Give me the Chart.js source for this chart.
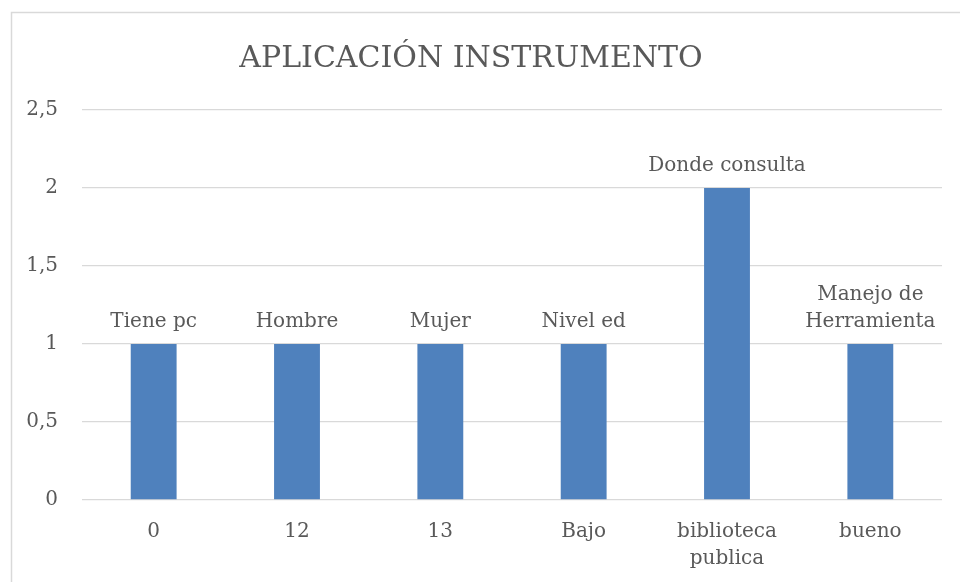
<!DOCTYPE html>
<html>
<head>
<meta charset="utf-8">
<script src="https://cdn.jsdelivr.net/npm/chart.js@4.4.1/dist/chart.umd.min.js"></script>
<style>
  html, body { margin: 0; padding: 0; background: #fff; }
  #wrap { position: relative; width: 960px; height: 582px; }
</style>
</head>
<body>
<div id="wrap"><canvas id="chart" width="960" height="582"></canvas></div>
<script>
const FONT = "'DejaVu Serif', serif";
const TEXT_COLOR = '#595959';

const categories = [['0'], ['12'], ['13'], ['Bajo'], ['biblioteca', 'publica'], ['bueno']];
const values = [1, 1, 1, 1, 2, 1];
const barLabels = [['Tiene pc'], ['Hombre'], ['Mujer'], ['Nivel ed'], ['Donde consulta'], ['Manejo de', 'Herramienta']];
const yTicks = [0, 0.5, 1, 1.5, 2, 2.5];

// frame around the chart (only top and left show in the picture)
const framePlugin = {
  id: 'frame',
  beforeDraw(chart) {
    const ctx = chart.ctx;
    ctx.save();
    ctx.strokeStyle = '#d9d9d9';
    ctx.lineWidth = 1.5;
    ctx.strokeRect(11.5, 12.5, 1000, 700);
    ctx.restore();
  }
};

// labels written above each bar
const barLabelPlugin = {
  id: 'barLabels',
  afterDatasetsDraw(chart) {
    const ctx = chart.ctx;
    const meta = chart.getDatasetMeta(0);
    ctx.save();
    ctx.font = '20px ' + FONT;
    ctx.fillStyle = TEXT_COLOR;
    ctx.textAlign = 'center';
    ctx.textBaseline = 'alphabetic';
    meta.data.forEach((bar, i) => {
      const lines = barLabels[i];
      lines.forEach((line, j) => {
        const y = bar.y - 17 - (lines.length - 1 - j) * 27;
        ctx.fillText(line, bar.x, y);
      });
    });
    ctx.restore();
  }
};

new Chart(document.getElementById('chart'), {
  type: 'bar',
  data: {
    labels: categories,
    datasets: [{
      data: values,
      backgroundColor: '#4f81bd',
      borderWidth: 0,
      categoryPercentage: 1,
      barPercentage: 0.32
    }]
  },
  plugins: [framePlugin, barLabelPlugin],
  options: {
    responsive: false,
    animation: false,
    layout: { padding: { top: 12, right: 18, bottom: 7, left: 0 } },
    plugins: {
      legend: { display: false },
      tooltip: { enabled: false },
      title: {
        display: true,
        text: 'APLICACIÓN INSTRUMENTO',
        color: TEXT_COLOR,
        font: { family: FONT, size: 30, weight: 'normal' },
        padding: { top: 29, bottom: 33 }
      }
    },
    scales: {
      x: {
        afterFit(scale) { scale.height = 75; },
        grid: { display: false, drawTicks: false },
        border: { display: false },
        ticks: {
          color: TEXT_COLOR,
          font: { family: FONT, size: 20, lineHeight: 1.35 },
          padding: 18,
          maxRotation: 0,
          autoSkip: false
        }
      },
      y: {
        min: 0,
        max: 2.5,
        afterFit(scale) { scale.width = 82; },
        afterBuildTicks(scale) { scale.ticks = yTicks.map(v => ({ value: v })); },
        grid: { color: '#d9d9d9', lineWidth: 1.3, drawTicks: false },
        border: { display: false },
        ticks: {
          color: TEXT_COLOR,
          font: { family: FONT, size: 20 },
          padding: 24,
          callback: v => String(v).replace('.', ',')
        }
      }
    }
  }
});
</script>
</body>
</html>
